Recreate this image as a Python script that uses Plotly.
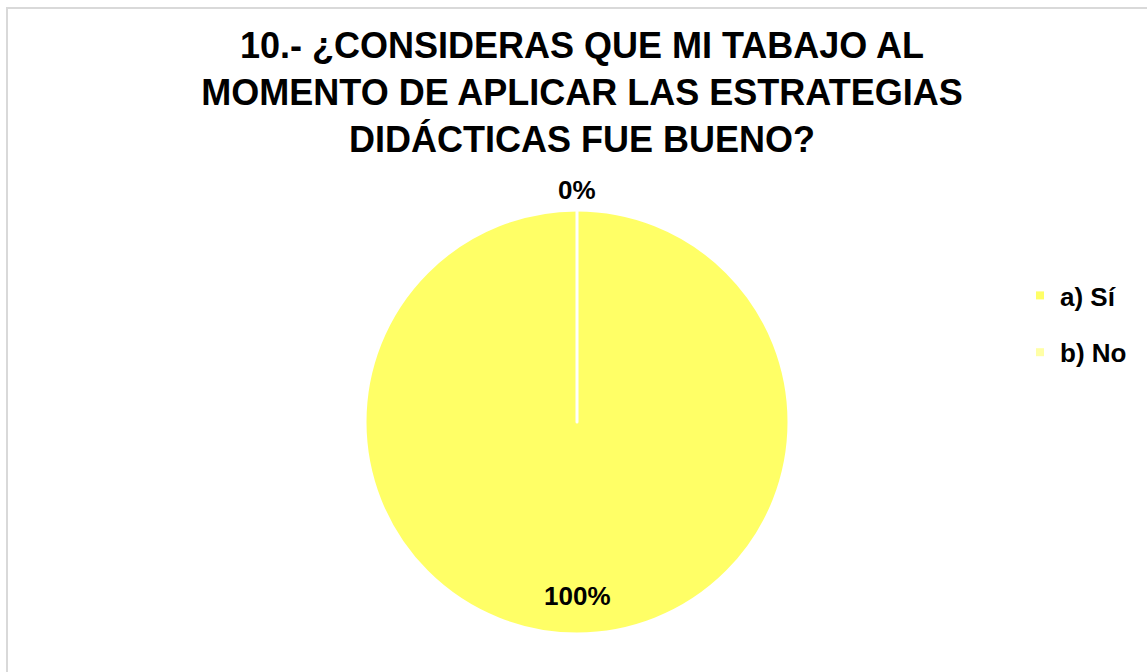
import math
import plotly.graph_objects as go

labels = ["a) Sí", "b) No"]
values = [100, 0]
colors = ["#FFFF66", "#FFFFA6"]
title_text = "10.- ¿CONSIDERAS QUE MI TABAJO AL<br>MOMENTO DE APLICAR LAS ESTRATEGIAS<br>DIDÁCTICAS FUE BUENO?"

W, H = 1147, 672
CX, CY, R = 577, 422, 212  # pie centre / radius in pixels
label_radius = [0.82, 1.095]  # label distance from centre, as fraction of R

fig = go.Figure()
fig.add_trace(go.Pie(
    labels=labels, values=values, sort=False, direction="clockwise", rotation=0,
    marker=dict(colors=colors, line=dict(color="white", width=3)),
    textinfo="none", showlegend=False, hoverinfo="label+percent",
    domain=dict(x=[(CX - R) / W, (CX + R) / W], y=[(H - CY - R) / H, (H - CY + R) / H]),
))

# legend entries (one group per category so they can be spaced apart)
for lab, col in zip(labels, colors):
    fig.add_trace(go.Scatter(
        x=[None], y=[None], mode="markers", name=lab, legendgroup=lab,
        marker=dict(symbol="square", size=8, color=col), showlegend=True,
    ))

# percentage labels placed at each slice's mid-angle
total = sum(values)
annotations = []
cum = 0
for v, rf in zip(values, label_radius):
    mid = (cum + v / 2) / total * 2 * math.pi
    cum += v
    px = CX + rf * R * math.sin(mid)
    py = CY - rf * R * math.cos(mid)
    annotations.append(dict(
        x=px / W, y=1 - py / H, xref="paper", yref="paper", showarrow=False,
        text=f"{round(v / total * 100)}%", xanchor="center", yanchor="middle",
        font=dict(family="Liberation Sans", size=26, color="black", weight="bold"),
    ))

fig.update_layout(
    width=W, height=H,
    margin=dict(l=0, r=0, t=0, b=0),
    paper_bgcolor="white", plot_bgcolor="white",
    xaxis=dict(visible=False), yaxis=dict(visible=False),
    title=dict(text=title_text, x=582 / W, xanchor="center", y=1 - 58 / H, yanchor="top",
               font=dict(family="Liberation Sans", size=36, color="black", weight="bold")),
    legend=dict(x=1020 / W, y=1 - 272 / H, xanchor="left", yanchor="top",
                font=dict(family="Liberation Sans", size=26, color="black", weight="bold"),
                tracegroupgap=20, traceorder="grouped", bgcolor="rgba(0,0,0,0)"),
    annotations=annotations,
    shapes=[dict(type="rect", xref="paper", yref="paper", x0=7 / W, x1=1.01, y0=-0.01, y1=1 - 8 / H,
                 line=dict(color="#D9D9D9", width=2))],
)
fig.write_html("out.html", config={"displayModeBar": False},
               post_script="document.body.style.margin='0';document.body.style.overflow='hidden';")
